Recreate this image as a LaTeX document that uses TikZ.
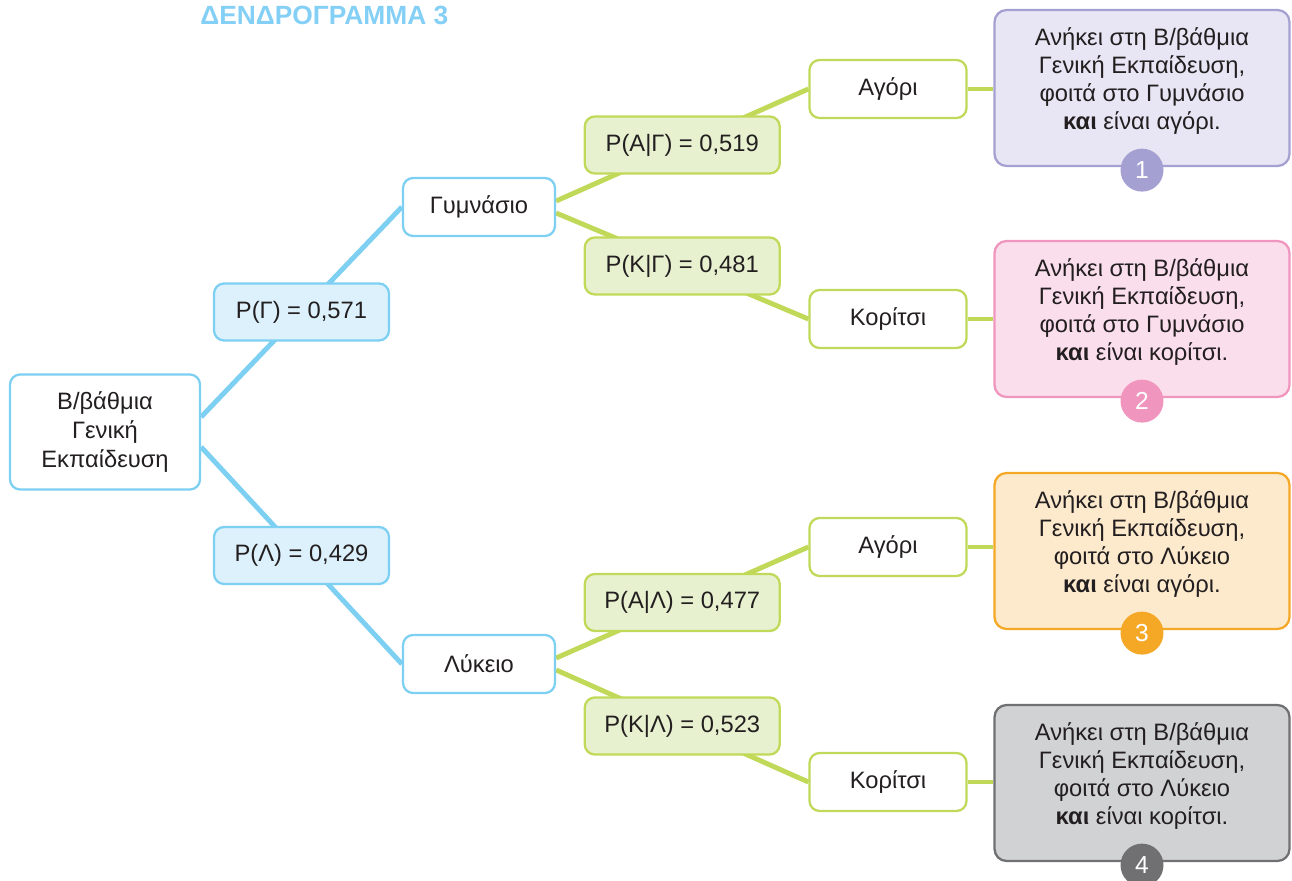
\documentclass[tikz,border=0pt]{standalone}
\usepackage{fontspec}
\setmainfont{Liberation Sans}
\usepackage{xcolor}
\usetikzlibrary{positioning}
\pgfdeclarelayer{background}
\pgfsetlayers{background,main}
\definecolor{ink}{RGB}{35,31,32}
\definecolor{skyline}{RGB}{125,208,242}
\definecolor{skyfill}{RGB}{220,241,252}
\definecolor{limeline}{RGB}{192,217,88}
\definecolor{limefill}{RGB}{231,241,207}
\definecolor{lilacline}{RGB}{165,160,210}
\definecolor{lilacfill}{RGB}{232,230,244}
\definecolor{roseline}{RGB}{240,150,190}
\definecolor{rosefill}{RGB}{251,222,235}
\definecolor{amberline}{RGB}{245,168,38}
\definecolor{amberfill}{RGB}{253,234,205}
\definecolor{slateline}{RGB}{112,112,114}
\definecolor{slatefill}{RGB}{209,210,212}
\definecolor{titleblue}{RGB}{132,207,245}
\tikzset{%
	boxbase/.style  = {rectangle, rounded corners=2mm, line width=1.3pt, text=ink, font=\fontsize{13.5}{16.3}\selectfont, align=center, inner sep=0pt},
	rootbox/.style  = {boxbase, draw=skyline, fill=white, minimum width=3.8cm, minimum height=2.3cm},
	probblue/.style = {boxbase, draw=skyline, fill=skyfill, minimum width=3.5cm, minimum height=1.14cm},
	midbox/.style   = {boxbase, draw=skyline, fill=white, minimum width=3.04cm, minimum height=1.16cm},
	probgreen/.style= {boxbase, draw=limeline, fill=limefill, minimum width=3.9cm, minimum height=1.14cm},
	leafbox/.style  = {boxbase, draw=limeline, fill=white, minimum width=3.14cm, minimum height=1.16cm},
	resultbox/.style= {rectangle, rounded corners=2.4mm, line width=1.3pt, minimum width=5.9cm, minimum height=3.12cm},
	resulttext/.style={text=ink, font=\fontsize{13.5}{16}\selectfont, align=center, inner sep=0pt},
	badge/.style    = {circle, minimum size=0.86cm, inner sep=0pt, text=white, font=\fontsize{14}{16}\selectfont},
	bluelink/.style = {draw=skyline, line width=2.8pt},
	greenlink/.style= {draw=limeline, line width=2.8pt},
	heading/.style  = {text=titleblue, font=\fontsize{15}{18}\selectfont\bfseries, inner sep=0pt},
}

\begin{document}
\begin{tikzpicture}[x=0.02cm,y=-0.02cm]
	\useasboundingbox (0,0) rectangle (1292,881);
	\node[heading, anchor=base west] (title) at (200,25) {ΔΕΝΔΡΟΓΡΑΜΜΑ 3};
	
	\node[rootbox] (root) at (105,432) {Β/βάθμια\\Γενική\\Εκπαίδευση};
	\node[midbox] (gym) at (479,207) {Γυμνάσιο};
	\node[midbox] (lyk) at (479,664) {Λύκειο};
	
	\node[leafbox] (gymA) at (888,89) {Αγόρι};
	\node[leafbox] (gymK) at (888,319) {Κορίτσι};
	\node[leafbox] (lykA) at (888,547) {Αγόρι};
	\node[leafbox] (lykK) at (888,782) {Κορίτσι};
	
	\node[resultbox, draw=lilacline, fill=lilacfill] (r1) at (1142,88) {};
	\node[resulttext] (t1) at (1142,81) {Ανήκει στη Β/βάθμια\\Γενική Εκπαίδευση,\\φοιτά στο Γυμνάσιο\\\textbf{και} είναι αγόρι.};
	\node[badge, fill=lilacline] (n1) at ([yshift=-0.06cm]r1.south) {1};
	
	\node[resultbox, draw=roseline, fill=rosefill] (r2) at (1142,319) {};
	\node[resulttext] (t2) at (1142,312) {Ανήκει στη Β/βάθμια\\Γενική Εκπαίδευση,\\φοιτά στο Γυμνάσιο\\\textbf{και} είναι κορίτσι.};
	\node[badge, fill=roseline] (n2) at ([yshift=-0.06cm]r2.south) {2};
	
	\node[resultbox, draw=amberline, fill=amberfill] (r3) at (1142,551) {};
	\node[resulttext] (t3) at (1142,544) {Ανήκει στη Β/βάθμια\\Γενική Εκπαίδευση,\\φοιτά στο Λύκειο\\\textbf{και} είναι αγόρι.};
	\node[badge, fill=amberline] (n3) at ([yshift=-0.06cm]r3.south) {3};
	
	\node[resultbox, draw=slateline, fill=slatefill] (r4) at (1142,783) {};
	\node[resulttext] (t4) at (1142,776) {Ανήκει στη Β/βάθμια\\Γενική Εκπαίδευση,\\φοιτά στο Λύκειο\\\textbf{και} είναι κορίτσι.};
	\node[badge, fill=slateline] (n4) at ([yshift=-0.06cm]r4.south) {4};
	
	\begin{pgfonlayer}{background}
		\draw[bluelink] ([yshift=0.3cm]root.east) -- node[probblue] (pG) {P(Γ) = 0,571} (gym.west);
		\draw[bluelink] ([yshift=-0.3cm]root.east) -- node[probblue] (pL) {P(Λ) = 0,429} (lyk.west);
		\draw[greenlink] ([yshift=0.12cm]gym.east) -- node[probgreen] (pAG) {P(Α|Γ) = 0,519} (gymA.west);
		\draw[greenlink] ([yshift=-0.12cm]gym.east) -- node[probgreen] (pKG) {P(Κ|Γ) = 0,481} (gymK.west);
		\draw[greenlink] ([yshift=0.12cm]lyk.east) -- node[probgreen] (pAL) {P(Α|Λ) = 0,477} (lykA.west);
		\draw[greenlink] ([yshift=-0.12cm]lyk.east) -- node[probgreen] (pKL) {P(Κ|Λ) = 0,523} (lykK.west);
		\draw[greenlink] (gymA.east) -- (gymA.east -| r1.west);
		\draw[greenlink] (gymK.east) -- (gymK.east -| r2.west);
		\draw[greenlink] (lykA.east) -- (lykA.east -| r3.west);
		\draw[greenlink] (lykK.east) -- (lykK.east -| r4.west);
	\end{pgfonlayer}
\end{tikzpicture}
\end{document}
